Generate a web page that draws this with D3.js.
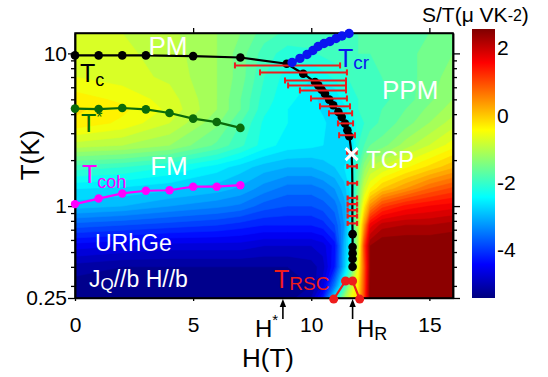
<!DOCTYPE html>
<html><head><meta charset="utf-8">
<script src="https://cdn.jsdelivr.net/npm/d3@7/dist/d3.min.js"></script>
<style>
html,body{margin:0;padding:0;background:#fff;}
svg text{font-family:"Liberation Sans",Arial,Helvetica,sans-serif;}
</style></head><body>
<svg id="chart" width="548" height="377"></svg>
<script>
// ---------------- data ----------------
// Tc curve (black): FM transition, then down to the tricritical point
const curveH = [0,1,2,3,5,7,8.96,9.66,10.16,10.30,10.44,10.58,10.76,10.93,11.15,11.29,11.43,11.53,11.61];
const curveT = [9.7,9.7,9.7,9.7,9.6,9.4,8.55,7.36,6.49,6.17,5.78,5.45,4.98,4.57,4.13,3.83,3.47,3.14,2.87];
// tricritical point
const tcpH = [11.71];
const tcpT = [2.19];
// first-order line below TCP, points with short red error bars
const lowErrH  = [11.72,11.73,11.74,11.74,11.74,11.74,11.74,11.74];
const lowErrT  = [2.25,1.82,1.41,1.13,1.03,0.94,0.86,0.77];
const lowErrLo = [11.52,11.53,11.54,11.54,11.54,11.54,11.54,11.54];
const lowErrHi = [11.92,11.93,11.94,11.94,11.94,11.94,11.94,11.94];
// first-order line below TCP, black points
const lowDotH = [11.75,11.75,11.75,11.75,11.75];
const lowDotT = [0.655,0.54,0.49,0.45,0.40];
// wide error bars on the Tc curve
const errH  = [8.96,9.66,10.16,10.30,10.44,10.76,10.93,11.22,11.43,11.61];
const errT  = [8.34,7.51,6.65,6.17,5.72,5.07,4.50,4.05,3.48,2.91];
const errLo = [6.77,7.83,8.89,9.02,9.52,9.99,10.37,10.75,11.13,11.18];
const errHi = [11.22,11.51,11.47,11.47,11.47,11.51,11.64,11.73,11.77,11.85];
// T* (green)
const tsH = [0,1,2,3,4,5,6,7];
const tsT = [4.35,4.32,4.39,4.30,4.07,3.74,3.55,3.25];
// Tcoh (magenta)
const tcohH = [0,1,2,3,4,5,6,7];
const tcohT = [1.03,1.12,1.21,1.26,1.27,1.34,1.34,1.37];
// Tcr (blue)
const tcrH = [9.19,9.52,9.82,10.07,10.29,10.54,10.79,11.05,11.30,11.60];
const tcrT = [8.72,9.27,9.84,10.45,11.1,11.61,11.97,12.52,13.0,13.5];
// TRSC (red)
const rscH = [10.95,11.45,11.75,12.05];
const rscT = [0.246,0.323,0.323,0.246];
// arrows under the axis
const arrowH = [8.8,11.75];

// S/T map (µV/K^2), sampled on gridH x gridT
const gridH = [0,2,4,6,7,8,9,10,10.5,11,11.4,11.7,12,12.25,12.5,13,14,15,16];
const gridT = [13.6,10,7,5,4.3,3.5,2.5,1.8,1.3,1.0,0.75,0.55,0.4,0.3,0.25];
const sRows = [
 [-0.8,-0.9,-1.05,-1.3,-1.5,-1.8,-1.95,-1.95,-1.95,-1.95,-1.95,-1.95,-1.9,-1.9,-1.9,-1.85,-1.8,-1.7,-1.6],
 [-0.8,-0.85,-1.0,-1.3,-1.6,-2.0,-2.2,-2.15,-2.05,-2.0,-1.95,-1.95,-1.9,-1.9,-1.9,-1.85,-1.75,-1.65,-1.5],
 [-0.7,-0.8,-0.95,-1.3,-1.6,-2.1,-2.4,-2.5,-2.4,-2.25,-2.15,-2.05,-2.0,-2.0,-1.95,-1.9,-1.8,-1.6,-1.4],
 [-0.4,-0.55,-0.8,-1.3,-1.7,-2.2,-2.45,-2.6,-2.8,-2.75,-2.4,-2.2,-2.1,-2.05,-2.0,-1.95,-1.8,-1.55,-1.3],
 [-0.25,-0.45,-0.75,-1.3,-1.7,-2.25,-2.5,-2.6,-2.75,-2.85,-2.6,-2.3,-2.1,-2.05,-2.0,-1.9,-1.7,-1.45,-1.2],
 [-0.35,-0.55,-0.9,-1.45,-1.9,-2.35,-2.5,-2.55,-2.65,-2.85,-2.9,-2.5,-2.2,-2.1,-2.0,-1.85,-1.6,-1.3,-1.0],
 [-1.0,-1.1,-1.3,-1.75,-2.05,-2.4,-2.6,-2.65,-2.7,-2.8,-2.9,-2.75,-2.1,-1.9,-1.7,-1.6,-1.2,-0.9,-0.6],
 [-2.0,-2.1,-2.3,-2.6,-2.8,-3.0,-3.1,-3.1,-3.0,-2.9,-2.7,-2.5,-1.9,-1.4,-1.1,-0.9,-0.55,-0.25,0.05],
 [-2.7,-2.75,-2.85,-3.0,-3.15,-3.4,-3.6,-3.6,-3.5,-3.3,-3.0,-2.6,-1.6,-0.9,-0.5,-0.1,0.3,0.7,0.95],
 [-3.0,-3.1,-3.3,-3.45,-3.55,-3.8,-3.9,-3.9,-3.8,-3.6,-3.2,-2.7,-1.4,-0.4,0.4,1.0,1.35,1.5,1.6],
 [-3.8,-3.9,-4.0,-4.1,-4.2,-4.3,-4.3,-4.3,-4.2,-3.9,-3.3,-2.4,-1.0,0.3,1.6,2.0,2.1,2.1,2.2],
 [-4.6,-4.7,-4.8,-4.8,-4.8,-4.9,-4.9,-4.9,-4.8,-4.4,-3.1,-2.4,-1.0,1.0,2.3,2.5,2.5,2.5,2.5],
 [-5.2,-5.3,-5.3,-5.3,-5.3,-5.3,-5.3,-5.2,-5.0,-4.3,-3.0,-2.0,-0.6,0.8,2.3,2.5,2.5,2.5,2.5],
 [-5.4,-5.4,-5.4,-5.4,-5.4,-5.4,-5.4,-5.3,-4.8,-3.5,-2.2,-1.0,-0.3,0.9,2.4,2.5,2.5,2.5,2.5],
 [-5.4,-5.4,-5.4,-5.4,-5.4,-5.4,-5.4,-5.1,-4.3,-2.6,-1.3,-0.6,-0.2,1.0,2.4,2.5,2.5,2.5,2.5]
];

// ticks
const xTicks = [0,5,10,15];
const xTopTicks = [5,10,15];
const yTicks = [0.25,1,10];
const yTickLabels = ["0.25","1","10"];
const yMinor = [0.3,0.4,0.5,0.6,0.7,0.8,0.9,2,3,4,5,6,7,8,9];
const cbTicks = [2,0,-2,-4];
const cbTickLabels = ["2","0","-2","-4"];
const jetStops = [-5.5,-4.5,-2.5,-0.5,1.5,2.5];
const jetColors = ["#00007f","#0000ff","#00ffff","#ffff00","#ff0000","#7f0000"];

// ---------------- drawing ----------------
const svg = d3.select("#chart");
const X0=75, X1=453, Y0=33, Y1=298;
const x = d3.scaleLinear().domain([0,16]).range([X0,X1]);
const y = d3.scaleLog().domain([0.25,13.6]).range([Y1,Y0]);
const jet = d3.scaleLinear().domain(jetStops).range(jetColors).clamp(true);
const cb = d3.scaleLinear().domain([-5.5,2.5]).range([298,29]);

const defs = svg.append("defs");
defs.append("clipPath").attr("id","plotclip").append("rect")
  .attr("x",X0).attr("y",Y0).attr("width",X1-X0).attr("height",Y1-Y0);

// heat map via filled contours on the (non-uniform) grid
const n = gridH.length, m = gridT.length;
const values = sRows.flat();
const thresholds = d3.range(-5.5, 2.5, 0.2);
const contours = d3.contours().size([n,m]).thresholds(thresholds)(values);
const ix = d3.scaleLinear().domain(d3.range(n)).range(gridH.map(x)).clamp(true);
const iy = d3.scaleLinear().domain(d3.range(m)).range(gridT.map(y)).clamp(true);
const proj = d3.geoTransform({point(px,py){ this.stream.point(ix(px-0.5), iy(py-0.5)); }});
const gpath = d3.geoPath(proj);
const heat = svg.append("g").attr("clip-path","url(#plotclip)");
heat.append("rect").attr("x",X0).attr("y",Y0).attr("width",X1-X0).attr("height",Y1-Y0).attr("fill",jet(-5.4));
heat.selectAll("path").data(contours).join("path")
  .attr("d",gpath)
  .attr("fill",d=>jet(d.value+0.1))
  .attr("stroke",d=>jet(d.value+0.1)).attr("stroke-width",0.6);

// axes
function styleAxis(g){
  g.selectAll("path.domain").attr("stroke","#000").attr("stroke-width",1.5);
  g.selectAll(".tick line").attr("stroke","#000").attr("stroke-width",1.3);
  g.selectAll("text").attr("font-size",21).attr("fill","#000")
    .attr("font-family",'"Liberation Sans",Arial,sans-serif');
}
svg.append("g").attr("transform",`translate(${X0},0)`)
  .call(d3.axisLeft(y).tickValues(yTicks).tickFormat((d,i)=>yTickLabels[i]).tickSize(7).tickSizeOuter(0).tickPadding(1))
  .call(styleAxis);
svg.append("g").attr("transform",`translate(${X0},0)`)
  .call(d3.axisLeft(y).tickValues(yMinor).tickFormat("").tickSize(4).tickSizeOuter(0))
  .call(styleAxis);
svg.append("g").attr("transform",`translate(${X1},0)`)
  .call(d3.axisRight(y).tickValues(yTicks).tickFormat("").tickSize(7).tickSizeOuter(0))
  .call(styleAxis);
svg.append("g").attr("transform",`translate(${X1},0)`)
  .call(d3.axisRight(y).tickValues(yMinor).tickFormat("").tickSize(4).tickSizeOuter(0))
  .call(styleAxis);
svg.append("g").attr("transform",`translate(0,${Y0})`)
  .call(d3.axisTop(x).tickValues(xTopTicks).tickFormat("").tickSize(5).tickSizeOuter(0))
  .call(styleAxis);
svg.append("g").attr("transform",`translate(0,${Y1})`)
  .call(d3.axisBottom(x).tickValues(xTicks).tickFormat(d=>String(d)).tickSize(3).tickSizeOuter(0).tickPadding(16))
  .call(styleAxis);
svg.append("rect").attr("x",X0).attr("y",Y0).attr("width",X1-X0).attr("height",Y1-Y0)
  .attr("fill","none").attr("stroke","#000").attr("stroke-width",1.5);

// axis titles
svg.append("text").attr("transform","translate(39,155) rotate(-90)").attr("text-anchor","middle")
  .attr("font-size",26).text("T(K)");
svg.append("text").attr("x",268).attr("y",367).attr("text-anchor","middle").attr("font-size",26).text("H(T)");

// marks
const line = d3.line().x(d=>x(d[0])).y(d=>y(d[1]));
const zip = (a,b)=>a.map((v,i)=>[v,b[i]]);
const marks = svg.append("g");

// green T*
marks.append("path").attr("d",line(zip(tsH,tsT))).attr("fill","none").attr("stroke","#0a6b0a").attr("stroke-width",2.2);
marks.selectAll(".ts").data(zip(tsH,tsT)).join("circle").attr("cx",d=>x(d[0])).attr("cy",d=>y(d[1])).attr("r",4.3).attr("fill","#0a6b0a");
// magenta Tcoh
marks.append("path").attr("d",line(zip(tcohH,tcohT))).attr("fill","none").attr("stroke","#ff00ff").attr("stroke-width",2.2);
marks.selectAll(".tcoh").data(zip(tcohH,tcohT)).join("circle").attr("cx",d=>x(d[0])).attr("cy",d=>y(d[1])).attr("r",4.2).attr("fill","#ff00ff");

// black line Tc -> TCP -> first-order line
const blackPts = zip(curveH,curveT).concat(zip(tcpH,tcpT), zip(lowErrH,lowErrT).slice(1), zip(lowDotH,lowDotT));
marks.append("path").attr("d",line(blackPts)).attr("fill","none").attr("stroke","#000").attr("stroke-width",2.2);
marks.selectAll(".bk").data(zip(curveH,curveT).concat(zip(lowDotH,lowDotT))).join("circle")
  .attr("cx",d=>x(d[0])).attr("cy",d=>y(d[1])).attr("r",4.3).attr("fill","#000");

// red error bars
const red = "#ee1c1c";
function errBar(g, lo, hi, t, cap){
  const yy = y(t);
  g.append("line").attr("x1",x(lo)).attr("x2",x(hi)).attr("y1",yy).attr("y2",yy);
  g.append("line").attr("x1",x(lo)).attr("x2",x(lo)).attr("y1",yy-cap).attr("y2",yy+cap);
  g.append("line").attr("x1",x(hi)).attr("x2",x(hi)).attr("y1",yy-cap).attr("y2",yy+cap);
}
const eg = marks.append("g").attr("stroke",red).attr("stroke-width",2);
errT.forEach((t,i)=>errBar(eg, errLo[i], errHi[i], t, 3));
const eg2 = marks.append("g").attr("stroke",red).attr("stroke-width",2.2);
lowErrT.forEach((t,i)=>errBar(eg2, lowErrLo[i], lowErrHi[i], t, 2.5));

// blue Tcr
marks.append("path").attr("d",line(zip(tcrH,tcrT))).attr("fill","none").attr("stroke","#0a14f0").attr("stroke-width",3);
marks.selectAll(".tcr").data(zip(tcrH,tcrT)).join("circle").attr("cx",d=>x(d[0])).attr("cy",d=>y(d[1])).attr("r",4.7).attr("fill","#0a14f0");

// red TRSC
marks.append("path").attr("d",line(zip(rscH,rscT))).attr("fill","none").attr("stroke",red).attr("stroke-width",2.2);
marks.selectAll(".rsc").data(zip(rscH,rscT)).join("circle").attr("cx",d=>x(d[0])).attr("cy",d=>y(d[1])).attr("r",4.5).attr("fill",red);

// TCP cross
const cx0 = x(tcpH[0]), cy0 = y(tcpT[0]);
marks.append("path").attr("d",`M${cx0-6},${cy0-6}L${cx0+6},${cy0+6}M${cx0-6},${cy0+6}L${cx0+6},${cy0-6}`)
  .attr("stroke","#fff").attr("stroke-width",3);

// arrows below axis
arrowH.forEach(h=>{
  const xa = x(h);
  svg.append("line").attr("x1",xa).attr("x2",xa).attr("y1",305).attr("y2",319).attr("stroke","#000").attr("stroke-width",1.6);
  svg.append("path").attr("d",`M${xa},${299}L${xa-3.2},${307}L${xa+3.2},${307}Z`).attr("fill","#000");
});
// H* and HR labels
const tH = svg.append("text").attr("x",255).attr("y",337).attr("font-size",24);
tH.append("tspan").text("H");
tH.append("tspan").attr("font-size",15).attr("dy",-12).text("*");
const tR = svg.append("text").attr("x",357).attr("y",337).attr("font-size",24);
tR.append("tspan").text("H");
tR.append("tspan").attr("font-size",18).attr("dy",3).text("R");

// in-plot labels
function sub(xp, yp, main, subt, color, size, subSize, dy){
  const t = svg.append("text").attr("x",xp).attr("y",yp).attr("font-size",size).attr("fill",color);
  t.append("tspan").text(main);
  t.append("tspan").attr("font-size",subSize).attr("dy",dy).text(subt);
  return t;
}
svg.append("text").attr("x",168).attr("y",55).attr("text-anchor","middle").attr("font-size",26).attr("fill","#fff").text("PM");
svg.append("text").attr("x",169).attr("y",175).attr("text-anchor","middle").attr("font-size",26).attr("fill","#fff").text("FM");
svg.append("text").attr("x",382).attr("y",99).attr("font-size",26).attr("fill","#fff").text("PPM");
svg.append("text").attr("x",366).attr("y",168).attr("font-size",24).attr("fill","#fff").text("TCP");
svg.append("text").attr("x",95).attr("y",251).attr("font-size",23).attr("fill","#fff").text("URhGe");
const jq = svg.append("text").attr("x",89).attr("y",287).attr("font-size",23).attr("fill","#fff");
jq.append("tspan").text("J");
jq.append("tspan").attr("font-size",17).attr("dy",3).text("Q");
jq.append("tspan").attr("dy",-3).text("//b H//b");

sub(80, 82, "T", "c", "#000", 25, 18, 4);
const tstar = svg.append("text").attr("x",81).attr("y",132).attr("font-size",25).attr("fill","#0a6b0a");
tstar.append("tspan").text("T");
tstar.append("tspan").attr("font-size",16).attr("dy",-9).text("*");
sub(82, 183, "T", "coh", "#ff00ff", 25, 18, 5);
sub(338, 67, "T", "cr", "#0a14f0", 25, 19, 2);
sub(274, 288, "T", "RSC", red, 25, 19, 2);

// colour bar
const grad = defs.append("linearGradient").attr("id","jetgrad").attr("x1",0).attr("x2",0).attr("y1",1).attr("y2",0);
jetStops.forEach((v,i)=>grad.append("stop").attr("offset",(v+5.5)/8).attr("stop-color",jetColors[i]));
svg.append("rect").attr("x",472).attr("y",cb(2.5)).attr("width",23).attr("height",cb(-5.5)-cb(2.5)).attr("fill","url(#jetgrad)");
svg.selectAll(".cbl").data(cbTicks).join("text").attr("x",497).attr("y",d=>cb(d)).attr("dy","0.45em")
  .attr("font-size",21).text((d,i)=>cbTickLabels[i]);
const ttl = svg.append("text").attr("x",422).attr("y",22).attr("font-size",21);
ttl.append("tspan").text("S/T(\u03bc VK");
ttl.append("tspan").attr("font-size",16).attr("dy",-1).text("-2");
ttl.append("tspan").attr("dy",1).text(")");
</script>
</body></html>
